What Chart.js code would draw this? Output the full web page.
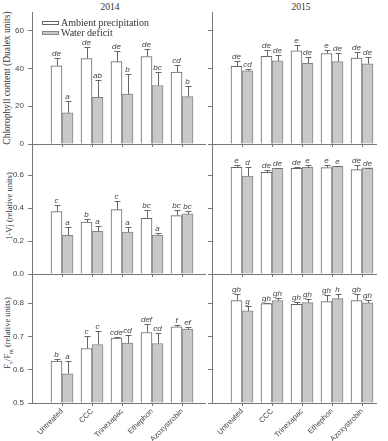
<!DOCTYPE html>
<html>
<head>
<meta charset="utf-8">
<script src="https://cdn.jsdelivr.net/npm/chart.js@4.4.1/dist/chart.umd.min.js"></script>
<style>
body { margin: 0; background: #fff; width: 388px; height: 441px; position: relative; overflow: hidden; }
.panel { position: absolute; overflow: hidden; }
.panel canvas { position: absolute; left: 0; top: 0; }
.t { position: absolute; white-space: nowrap; font-family: 'Liberation Serif', serif; color: #333; transform: translate(-50%, -50%); }
.r { transform: translate(-50%, -50%) rotate(-90deg); }
</style>
</head>
<body>
<div class="t" style="left:110px;top:7px;font-size:9.5px">2014</div>
<div class="t" style="left:301px;top:7px;font-size:9.5px">2015</div>
<div class="t r" style="left:7px;top:78px;font-size:9.5px">Chlorophyll content (Dualex units)</div>
<div class="t r" style="left:9px;top:206px;font-size:8.5px">1-Vj (relative units)</div>
<div class="t r" style="left:8px;top:333px;font-size:8.5px">F<sub style="font-size:6px">v</sub>/F<sub style="font-size:6px">m</sub> (relative units)</div>
<script>
const categories = ['Untreated', 'CCC', 'Trinexapac', 'Ethephon', 'Azoxystrobin'];
const seriesNames = ['Ambient precipitation', 'Water deficit'];

// chlorophyll content, 2014
const chl14Amb = [41.4, 45.3, 43.7, 46.4, 38.1];
const chl14AmbErr = [4.1, 6.0, 5.7, 3.9, 3.7];
const chl14AmbSig = ['de', 'de', 'de', 'de', 'cd'];
const chl14Def = [16.5, 24.8, 26.5, 31.0, 25.1];
const chl14DefErr = [6.2, 9.0, 10.7, 7.2, 5.7];
const chl14DefSig = ['a', 'ab', 'b', 'bc', 'b'];
// chlorophyll content, 2015
const chl15Amb = [41.2, 46.5, 49.4, 48.0, 45.5];
const chl15AmbErr = [2.9, 3.1, 3.2, 1.6, 3.5];
const chl15AmbSig = ['de', 'de', 'e', 'e', 'de'];
const chl15Def = [38.8, 44.1, 42.8, 43.7, 42.5];
const chl15DefErr = [1.0, 3.2, 3.2, 4.6, 3.5];
const chl15DefSig = ['cd', 'de', 'de', 'de', 'de'];

// 1-Vj, 2014
const vj14Amb = [0.378, 0.315, 0.390, 0.338, 0.354];
const vj14AmbErr = [0.039, 0.019, 0.051, 0.048, 0.034];
const vj14AmbSig = ['c', 'b', 'c', 'bc', 'bc'];
const vj14Def = [0.234, 0.258, 0.254, 0.236, 0.364];
const vj14DefErr = [0.053, 0.035, 0.033, 0.010, 0.020];
const vj14DefSig = ['a', 'a', 'a', 'a', 'bc'];
// 1-Vj, 2015
const vj15Amb = [0.647, 0.616, 0.641, 0.645, 0.633];
const vj15AmbErr = [0.014, 0.012, 0.008, 0.016, 0.030];
const vj15AmbSig = ['e', 'de', 'de', 'e', 'de'];
const vj15Def = [0.594, 0.641, 0.647, 0.653, 0.643];
const vj15DefErr = [0.057, 0.004, 0.016, 0.004, 0.002];
const vj15DefSig = ['d', 'de', 'e', 'e', 'de'];

// Fv/Fm, 2014
const fv14Amb = [0.626, 0.664, 0.695, 0.712, 0.729];
const fv14AmbErr = [0.007, 0.038, 0.002, 0.027, 0.007];
const fv14AmbSig = ['b', 'c', 'cde', 'def', 'f'];
const fv14Def = [0.588, 0.676, 0.680, 0.679, 0.722];
const fv14DefErr = [0.038, 0.040, 0.025, 0.032, 0.008];
const fv14DefSig = ['a', 'c', 'cd', 'cd', 'ef'];
// Fv/Fm, 2015
const fv15Amb = [0.808, 0.799, 0.797, 0.805, 0.808];
const fv15AmbErr = [0.019, 0.001, 0.007, 0.020, 0.021];
const fv15AmbSig = ['gh', 'gh', 'gh', 'gh', 'gh'];
const fv15Def = [0.777, 0.808, 0.802, 0.814, 0.801];
const fv15DefErr = [0.015, 0.009, 0.012, 0.015, 0.009];
const fv15DefSig = ['g', 'gh', 'gh', 'h', 'gh'];

const chlTicks = [0, 20, 40, 60];
const vjTicks = [0, 0.2, 0.4, 0.6];
const fvTicks = [0.5, 0.6, 0.7, 0.8];

const axisColor = '#777';
const textColor = '#444';
const fills = ['#ffffff', '#c8c8c8'];
const edges = ['#666', '#858585'];

// error bars + significance letters, values come from plugin options
const errorBars = {
    id: 'errorBars',
    afterDatasetsDraw(chart, args, opts) {
        const ctx = chart.ctx;
        const yScale = chart.scales.y;
        chart.data.datasets.forEach((ds, di) => {
            const meta = chart.getDatasetMeta(di);
            meta.data.forEach((bar, i) => {
                const top = Math.round(yScale.getPixelForValue(ds.data[i].y + opts.errors[di][i])) + 0.5;
                const cx = Math.round(bar.x) + 0.5;
                ctx.save();
                ctx.strokeStyle = '#666';
                ctx.lineWidth = 1;
                ctx.beginPath();
                ctx.moveTo(cx, bar.y);
                ctx.lineTo(cx, top);
                ctx.moveTo(cx - 3, top);
                ctx.lineTo(cx + 3, top);
                ctx.stroke();
                ctx.fillStyle = textColor;
                ctx.font = 'italic 8px "Liberation Sans"';
                ctx.textAlign = 'center';
                ctx.textBaseline = 'alphabetic';
                ctx.fillText(opts.letters[di][i], bar.x, top - 3);
                ctx.restore();
            });
        });
    }
};

// legend inside the first panel
const boxLegend = {
    id: 'boxLegend',
    afterDraw(chart, args, opts) {
        if (!opts.show) return;
        const ctx = chart.ctx;
        const area = chart.chartArea;
        seriesNames.forEach((name, i) => {
            const yy = area.top + 11 + i * 10;
            ctx.save();
            ctx.fillStyle = fills[i];
            ctx.strokeStyle = edges[i];
            ctx.lineWidth = 1;
            ctx.fillRect(area.left + 10, yy - 2, 17, 4);
            ctx.strokeRect(area.left + 10.5, yy - 1.5, 16, 3);
            ctx.fillStyle = '#333';
            ctx.font = '10px "Liberation Serif"';
            ctx.textBaseline = 'middle';
            ctx.fillText(name, area.left + 29, yy);
            ctx.restore();
        });
    }
};

function makeData(vals) {
    return vals.map((v, i) => ({ x: i + 1, y: v }));
}

function drawPanel(p) {
    // the wrapper cuts the canvas a bit before its right edge
    const box = document.createElement('div');
    box.className = 'panel';
    box.style.left = p.x + 'px';
    box.style.top = p.y + 'px';
    box.style.width = p.visW + 'px';
    box.style.height = p.h + 'px';
    const cv = document.createElement('canvas');
    cv.width = p.w;
    cv.height = p.h;
    box.appendChild(cv);
    document.body.appendChild(box);

    const xTicks = { display: false };
    if (p.labels) {
        Object.assign(xTicks, {
            display: true,
            autoSkip: false,
            minRotation: 45,
            maxRotation: 45,
            padding: 1,
            color: textColor,
            font: { family: 'Liberation Sans', size: 7.5 },
            callback: v => categories[v - 1] || ''
        });
    }

    return new Chart(cv, {
        type: 'bar',
        data: {
            datasets: [
                { data: makeData(p.amb), backgroundColor: fills[0], borderColor: edges[0], borderWidth: 1, barThickness: 11, base: p.min },
                { data: makeData(p.def), backgroundColor: fills[1], borderColor: edges[1], borderWidth: 1, barThickness: 11, base: p.min }
            ]
        },
        options: {
            responsive: false,
            animation: false,
            devicePixelRatio: 1,
            layout: { padding: { top: 10 } },
            plugins: {
                legend: { display: false },
                tooltip: { enabled: false },
                errorBars: { errors: [p.ambErr, p.defErr], letters: [p.ambSig, p.defSig] },
                boxLegend: { show: !!p.legend }
            },
            scales: {
                x: {
                    type: 'linear',
                    min: 0,
                    max: p.xMax,
                    offset: false,
                    afterBuildTicks: s => { s.ticks = categories.map((c, i) => ({ value: i + 1 })); },
                    afterFit: s => { s.height = p.xH; },
                    grid: { drawOnChartArea: false, tickLength: 3, color: axisColor, offset: false },
                    border: { color: axisColor },
                    ticks: xTicks
                },
                y: {
                    type: 'linear',
                    min: p.min,
                    max: p.max,
                    afterBuildTicks: s => { s.ticks = p.ticks.map(v => ({ value: v })); },
                    afterFit: s => { s.width = p.yW; },
                    grid: { drawOnChartArea: false, tickLength: 4, color: axisColor },
                    border: { color: axisColor },
                    ticks: {
                        display: !!p.yLabels,
                        padding: 4,
                        color: textColor,
                        font: { family: 'Liberation Sans', size: 8 },
                        callback: v => p.fmt(v)
                    }
                }
            }
        },
        plugins: [errorBars, boxLegend]
    });
}

const leftCol = { x: 0, w: 216, visW: 206, yW: 32, xMax: 6.133, yLabels: true };
const rightCol = { x: 200, w: 187, visW: 177, yW: 12, xMax: 5.833, yLabels: false };
const row1 = { y: 2, h: 152, xH: 10, min: 0, max: 70, ticks: chlTicks, fmt: v => String(v) };
const row2 = { y: 132, h: 152, xH: 10, min: 0, max: 0.8, ticks: vjTicks, fmt: v => v.toFixed(1) };
const row3 = { y: 260, h: 181, xH: 38, min: 0.5, max: 0.9, ticks: fvTicks, fmt: v => v.toFixed(1), labels: true };

drawPanel(Object.assign({}, leftCol, row1, { amb: chl14Amb, ambErr: chl14AmbErr, ambSig: chl14AmbSig, def: chl14Def, defErr: chl14DefErr, defSig: chl14DefSig, legend: true }));
drawPanel(Object.assign({}, rightCol, row1, { amb: chl15Amb, ambErr: chl15AmbErr, ambSig: chl15AmbSig, def: chl15Def, defErr: chl15DefErr, defSig: chl15DefSig }));
drawPanel(Object.assign({}, leftCol, row2, { amb: vj14Amb, ambErr: vj14AmbErr, ambSig: vj14AmbSig, def: vj14Def, defErr: vj14DefErr, defSig: vj14DefSig }));
drawPanel(Object.assign({}, rightCol, row2, { amb: vj15Amb, ambErr: vj15AmbErr, ambSig: vj15AmbSig, def: vj15Def, defErr: vj15DefErr, defSig: vj15DefSig }));
drawPanel(Object.assign({}, leftCol, row3, { amb: fv14Amb, ambErr: fv14AmbErr, ambSig: fv14AmbSig, def: fv14Def, defErr: fv14DefErr, defSig: fv14DefSig }));
drawPanel(Object.assign({}, rightCol, row3, { amb: fv15Amb, ambErr: fv15AmbErr, ambSig: fv15AmbSig, def: fv15Def, defErr: fv15DefErr, defSig: fv15DefSig }));
</script>
</body>
</html>
